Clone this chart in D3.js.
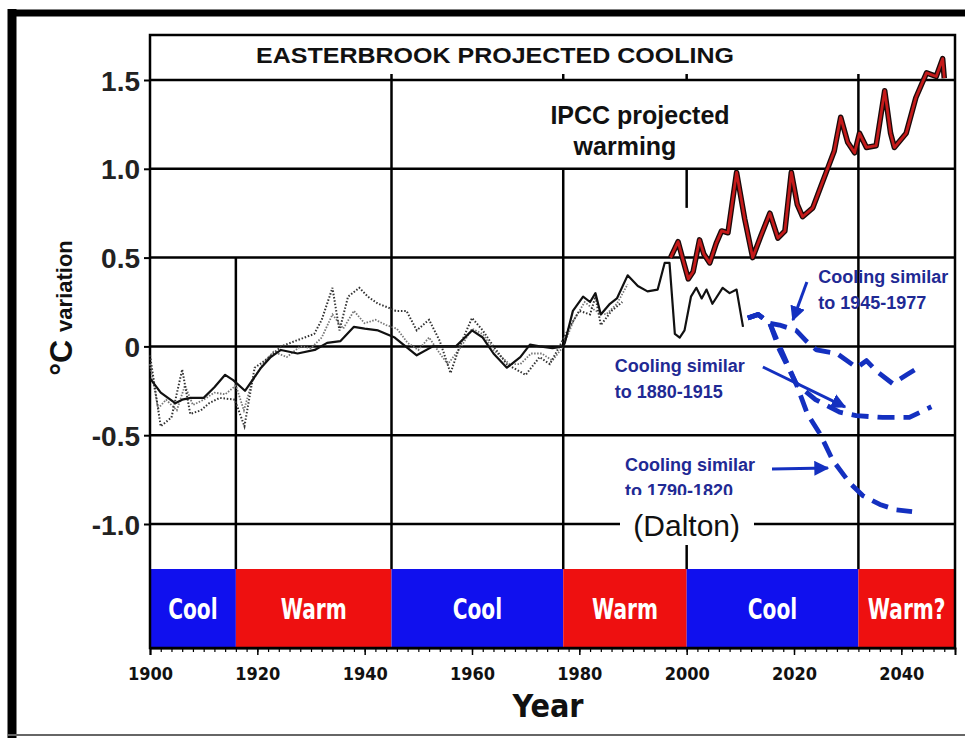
<!DOCTYPE html>
<html><head><meta charset="utf-8">
<script src="https://cdn.jsdelivr.net/npm/d3@7"></script>
<style>body{margin:0;background:#fff}</style>
</head><body><svg id="c" width="965" height="738"></svg>
<script>
// ---------- data ----------
const yTicks = [1.5, 1.0, 0.5, 0, -0.5, -1.0];
const yTickLabels = ["1.5", "1.0", "0.5", "0", "-0.5", "-1.0"];
const xTicks = [1900, 1920, 1940, 1960, 1980, 2000, 2020, 2040];
const bandStart = [1900, 1916, 1945, 1977, 2000, 2032];
const bandEnd = [1916, 1945, 1977, 2000, 2032, 2050];
const bandLabel = ["Cool", "Warm", "Cool", "Warm", "Cool", "Warm?"];
const bandKind = ["cool", "warm", "cool", "warm", "cool", "warm"];

const obsSolid = [[1900,-0.18],[1902,-0.26],[1904.7,-0.32],[1906,-0.30],[1907.6,-0.29],[1910,-0.29],[1912,-0.23],[1914,-0.16],[1915.5,-0.19],[1917.7,-0.25],[1920.7,-0.12],[1922.5,-0.06],[1924.4,-0.02],[1927.5,-0.04],[1930.7,-0.02],[1933,0.02],[1935.5,0.03],[1938,0.11],[1940,0.10],[1942.5,0.09],[1945.6,0.05],[1949.7,-0.05],[1952.7,0.0],[1957,0.0],[1960,0.09],[1962,0.05],[1964,-0.04],[1966.5,-0.12],[1969,-0.06],[1970.8,0.01],[1972.6,0.0],[1975,-0.01],[1977,0.0],[1977.3,0.02],[1978.8,0.20],[1980.7,0.28],[1982,0.25],[1983,0.30],[1984,0.18],[1985.7,0.24],[1987,0.27],[1989,0.40],[1990.9,0.34],[1992.7,0.31],[1994.6,0.32],[1995.9,0.47],[1996.8,0.47],[1997.8,0.07],[1998.7,0.05],[1999.6,0.09],[2000.8,0.28],[2001.8,0.33],[2002.8,0.27],[2003.7,0.32],[2004.8,0.24],[2006.7,0.33],[2008,0.30],[2009.3,0.32],[2010.5,0.11]];
const obsDot1 = [[1900,-0.05],[1902,-0.45],[1904,-0.40],[1906,-0.13],[1907.5,-0.38],[1909.5,-0.36],[1911,-0.32],[1913,-0.29],[1915.8,-0.30],[1917.6,-0.45],[1919.5,-0.12],[1921.4,-0.08],[1924.5,0.0],[1927,0.03],[1930.6,0.07],[1932,0.15],[1934,0.33],[1935.3,0.09],[1936.9,0.28],[1939,0.33],[1940.6,0.28],[1942.5,0.24],[1944.3,0.22],[1945.8,0.20],[1947.8,0.20],[1949.7,0.09],[1952,0.15],[1954,0.03],[1956,-0.15],[1957.7,0.0],[1960,0.16],[1962,0.09],[1964,0.0],[1966.5,-0.10],[1970,-0.16],[1972.6,-0.06],[1974.5,-0.10],[1976.3,0.0],[1978,0.10],[1980,0.20],[1982,0.18],[1983,0.28],[1984,0.12],[1986,0.20],[1988,0.25]];
const obsDot2 = [[1900,-0.10],[1901.5,-0.35],[1903,-0.30],[1905,-0.36],[1906.5,-0.22],[1908,-0.33],[1910,-0.30],[1912,-0.26],[1914,-0.27],[1916,-0.22],[1917.5,-0.36],[1919,-0.20],[1921,-0.10],[1923,-0.03],[1925.5,-0.06],[1928,0.0],[1930,-0.01],[1932,0.05],[1934,0.18],[1936,0.10],[1938,0.20],[1940,0.13],[1942,0.15],[1944,0.12],[1946,0.10],[1948,0.02],[1950,-0.02],[1952,0.05],[1954,-0.04],[1955.5,-0.10],[1958,0.0],[1960,0.10],[1962,0.07],[1964,-0.02],[1967,-0.10],[1969,-0.10],[1971,-0.04],[1973,-0.04],[1975,-0.08],[1977,0.0],[1979,0.15],[1981,0.25],[1983,0.20],[1985,0.18],[1987,0.24],[1989,0.35]];
const ipcc = [[1997,0.50],[1998.4,0.59],[1999.2,0.50],[2000.3,0.38],[2001.2,0.42],[2002.4,0.60],[2003.2,0.52],[2004.3,0.47],[2005.5,0.58],[2006.5,0.65],[2007.7,0.64],[2009.3,0.98],[2010.8,0.72],[2012.3,0.50],[2013.8,0.62],[2015.5,0.75],[2017,0.61],[2018.3,0.65],[2019.5,0.98],[2020.6,0.80],[2021.6,0.73],[2023.5,0.78],[2025,0.90],[2026,0.98],[2027.5,1.10],[2028.7,1.29],[2030,1.15],[2031.3,1.09],[2032.2,1.20],[2033.5,1.12],[2035.3,1.13],[2036.9,1.44],[2038,1.20],[2038.7,1.12],[2040.9,1.20],[2042.7,1.40],[2044.7,1.54],[2046.5,1.52],[2047.7,1.62],[2048,1.51]];
const cool4577 = [[2011.4,0.16],[2013.3,0.18],[2015.5,0.13],[2017.3,0.12],[2020.4,0.09],[2022.3,0.03],[2024.2,-0.02],[2028,-0.04],[2031.7,-0.12],[2033.5,-0.08],[2035.4,-0.14],[2038.4,-0.21],[2041,-0.16],[2043.7,-0.11]];
const cool8015 = [[2011.4,0.16],[2013.3,0.18],[2015.5,0.13],[2017.9,-0.04],[2020.4,-0.21],[2024,-0.30],[2028.5,-0.37],[2031.6,-0.39],[2036.5,-0.40],[2041.5,-0.40],[2045.6,-0.34]];
const cool9020 = [[2011.4,0.16],[2013.3,0.18],[2015.5,0.13],[2017.3,-0.02],[2020.4,-0.21],[2022.5,-0.38],[2024.8,-0.49],[2027.2,-0.64],[2030.4,-0.77],[2032.8,-0.84],[2036,-0.89],[2039,-0.92],[2042,-0.93]];

const noteLines = [["Cooling similar","to 1945-1977"],["Cooling similar","to 1880-1915"],["Cooling similar","to 1790-1820"]];
const noteAt = [[2024.5,0.357],[1986.6,-0.144],[1988.5,-0.70]];
const noteArrow = [[[2022.4,0.363],[2019.8,0.149]],[[2014.2,-0.116],[2029.5,-0.341]],[[2015.9,-0.69],[2026.3,-0.685]]];

// ---------- chart ----------
const svg = d3.select("#c");
const x = d3.scaleLinear().domain([1900, 2050]).range([150, 955]);
const y = d3.scaleLinear().domain([-1, 1.5]).range([524, 80]);
const bandTop = 569, bandBot = 648, boxTop = 35;
const blueLine = "#1430c0", blueText = "#1f2a94";
const sans = "'Liberation Sans', Arial, sans-serif";
const hand = "'DejaVu Sans Condensed', 'DejaVu Sans', sans-serif";

// frame
svg.append("rect").attr("x",0).attr("y",0).attr("width",965).attr("height",738).attr("fill","#fff");
svg.append("line").attr("x1",12).attr("x2",12).attr("y1",9).attr("y2",738).attr("stroke","#000").attr("stroke-width",9);
svg.append("line").attr("x1",8).attr("x2",965).attr("y1",13).attr("y2",13).attr("stroke","#000").attr("stroke-width",7);
svg.append("line").attr("x1",8).attr("x2",965).attr("y1",735).attr("y2",735).attr("stroke","#666").attr("stroke-width",2);

// bands
const bands = bandStart.map((s,i)=>({s, e:bandEnd[i], label:bandLabel[i], kind:bandKind[i]}));
svg.append("g").selectAll("rect").data(bands).join("rect")
  .attr("x", d=>x(d.s)).attr("width", d=>x(d.e)-x(d.s))
  .attr("y", bandTop).attr("height", bandBot-bandTop)
  .attr("fill", d=>d.kind==="cool" ? "#1010ee" : "#ee1010");
svg.append("g").selectAll("text").data(bands).join("text")
  .attr("x", d=>(x(d.s)+x(d.e))/2).attr("y", 619)
  .attr("text-anchor","middle").attr("fill","#fff")
  .attr("font-family", hand).attr("font-weight","bold").attr("font-size",28)
  .text(d=>d.label)
  .each(function(){ const w=this.getComputedTextLength(); d3.select(this).attr("textLength", w*0.8).attr("lengthAdjust","spacingAndGlyphs"); });

// grid lines
const grid = svg.append("g").attr("stroke","#000").attr("stroke-width",2.5);
grid.selectAll("line.h").data(yTicks).join("line").attr("class","h")
  .attr("x1", x(1900)).attr("x2", x(2050)).attr("y1", d=>y(d)).attr("y2", d=>y(d));
const vSegs = [[1916, y(0.5), bandTop],[1945, y(1.5)-6, bandTop],[1977, y(1.0), bandTop],[1977, y(1.5)-6, y(1.5)],
  [2032, y(1.5)-6, bandTop],[2000, y(1.5)-6, y(1.5)],[2000, y(1.0), y(0.78)],[2000, 545, bandTop]];
grid.selectAll("line.v").data(vSegs).join("line").attr("class","v")
  .attr("x1", d=>x(d[0])).attr("x2", d=>x(d[0])).attr("y1", d=>d[1]).attr("y2", d=>d[2]);
svg.append("rect").attr("x", x(1900)).attr("y", boxTop).attr("width", x(2050)-x(1900)).attr("height", bandBot-boxTop)
  .attr("fill","none").attr("stroke","#000").attr("stroke-width",2.5);

// y axis
const ya = svg.append("g").attr("transform", `translate(${x(1900)},0)`)
  .call(d3.axisLeft(y).tickValues(yTicks).tickFormat((d,i)=>yTickLabels[i]).tickSize(6).tickPadding(4));
ya.select(".domain").remove();
ya.selectAll("line").attr("stroke-width",2);
ya.selectAll("text").attr("font-family", sans).attr("font-weight","bold").attr("font-size",28).attr("fill","#222").attr("dy","0.36em");

svg.append("text").attr("transform","translate(72,308) rotate(-90)").attr("text-anchor","middle")
  .attr("font-family", sans).attr("font-weight","bold").attr("fill","#111")
  .call(t=>{ t.append("tspan").attr("font-size",32).text("°C"); t.append("tspan").attr("font-size",22).attr("dx",8).text("variation"); });

// x axis
const xMinor = d3.range(1900, 2051, 2);
const xm = svg.append("g").attr("transform", `translate(0,${bandBot})`)
  .call(d3.axisBottom(x).tickValues(xMinor).tickFormat("").tickSize(4));
xm.select(".domain").remove();
xm.selectAll("line").attr("stroke-width",1.2);
const xa = svg.append("g").attr("transform", `translate(0,${bandBot})`)
  .call(d3.axisBottom(x).tickValues(xTicks).tickFormat(d3.format("d")).tickSize(7).tickPadding(12));
xa.select(".domain").attr("stroke-width",2);
xa.selectAll("line").attr("stroke-width",1.5);
xa.selectAll("text").attr("font-family", hand).attr("font-weight","bold").attr("font-size",18).attr("fill","#111");
svg.append("text").attr("x",548).attr("y",717).attr("text-anchor","middle")
  .attr("font-family", hand).attr("font-weight","bold").attr("font-size",32).attr("fill","#111").text("Year");

// data lines
const line = d3.line().x(d=>x(d[0])).y(d=>y(d[1]));
svg.append("path").datum(obsDot2).attr("d", line).attr("fill","none").attr("stroke","#777").attr("stroke-width",1.8).attr("stroke-dasharray","1.5,1.5");
svg.append("path").datum(obsDot1).attr("d", line).attr("fill","none").attr("stroke","#333").attr("stroke-width",2).attr("stroke-dasharray","1.5,1.8");
svg.append("path").datum(obsSolid).attr("d", line).attr("fill","none").attr("stroke","#111").attr("stroke-width",2.2).attr("stroke-linejoin","round");
svg.append("path").datum(ipcc).attr("d", line).attr("fill","none").attr("stroke","#1a0a0a").attr("stroke-width",5.5).attr("stroke-linejoin","round");
svg.append("path").datum(ipcc).attr("d", line).attr("fill","none").attr("stroke","#c41a1a").attr("stroke-width",2.8).attr("stroke-linejoin","round");
[cool4577, cool8015, cool9020].forEach(s=>{
  svg.append("path").datum(s).attr("d", line).attr("fill","none").attr("stroke", blueLine)
    .attr("stroke-width",4.8).attr("stroke-dasharray","17,9").attr("stroke-linejoin","round");
});

// annotations
svg.append("defs").append("marker").attr("id","ah").attr("viewBox","0 0 10 10").attr("refX",9).attr("refY",5)
  .attr("markerWidth",5).attr("markerHeight",5).attr("orient","auto")
  .append("path").attr("d","M0,0 L10,5 L0,10 z").attr("fill", blueLine);
noteLines.forEach((lines,i)=>{
  const t = svg.append("text").attr("font-family", sans).attr("font-weight","bold").attr("font-size",18).attr("fill", blueText);
  lines.forEach((l,j)=>t.append("tspan").attr("x", x(noteAt[i][0])).attr("y", y(noteAt[i][1]) + j*26).text(l));
  const a = noteArrow[i];
  svg.append("line").attr("x1", x(a[0][0])).attr("y1", y(a[0][1]))
    .attr("x2", x(a[1][0])).attr("y2", y(a[1][1]))
    .attr("stroke", blueLine).attr("stroke-width",3).attr("marker-end","url(#ah)");
});

// Dalton label (covers part of the last note)
svg.append("rect").attr("x",620).attr("y",495).attr("width",134).attr("height",50).attr("fill","#fff");
svg.append("text").attr("x", x(2000)).attr("y",536).attr("text-anchor","middle")
  .attr("font-family", sans).attr("font-size",30).attr("fill","#111").text("(Dalton)");

// titles
svg.append("text").attr("x",495).attr("y",63).attr("text-anchor","middle")
  .attr("font-family", sans).attr("font-weight","bold").attr("font-size",22).attr("fill","#111")
  .attr("textLength",478).attr("lengthAdjust","spacingAndGlyphs").text("EASTERBROOK PROJECTED COOLING");
svg.append("text").attr("x",640).attr("y",124).attr("text-anchor","middle")
  .attr("font-family", sans).attr("font-weight","bold").attr("font-size",25).attr("fill","#111").text("IPCC projected");
svg.append("text").attr("x",625).attr("y",155).attr("text-anchor","middle")
  .attr("font-family", sans).attr("font-weight","bold").attr("font-size",25).attr("fill","#111").text("warming");
</script></body></html>
